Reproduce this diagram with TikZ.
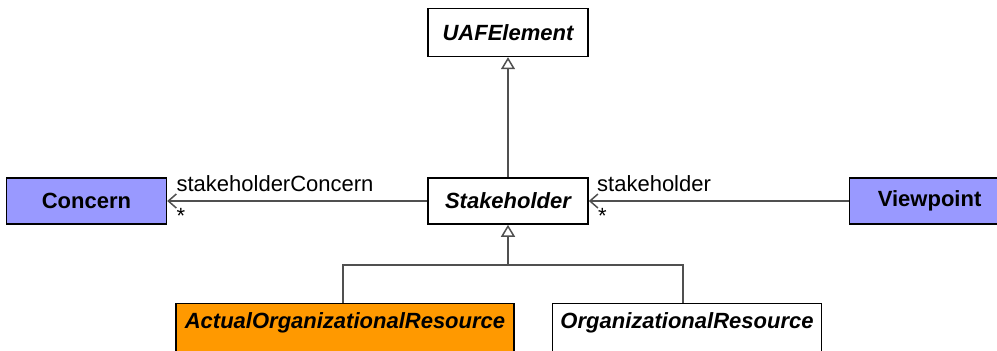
\documentclass[tikz,border=0pt]{standalone}
\usepackage{fontspec}
\setmainfont{Liberation Sans}
\usepackage{tikz}
\usetikzlibrary{arrows.meta,positioning}
\definecolor{lavender}{HTML}{9999FF}
\definecolor{amber}{HTML}{FF9900}
\definecolor{lgray}{HTML}{505050}
\tikzset{
  classbox/.style={
    rectangle, draw=black, fill=#1, line width=0.8pt,
    minimum width=80pt, minimum height=23pt,
    font=\fontsize{11}{13}\selectfont\bfseries, align=center,
    inner sep=3pt
  },
  classbox/.default=white,
  assocarrow/.style={
    -{Straight Barb[length=4pt, width=7pt]}, line width=0.75pt, color=lgray
  },
  genarrow/.style={
    -{Triangle[open, length=6pt, width=7pt, fill=white]}, line width=0.75pt, color=lgray
  },
  genline/.style={
    line width=0.75pt, color=lgray
  },
  labelnode/.style={
    font=\fontsize{11}{13}\selectfont, inner sep=0pt
  },
}
\begin{document}
\begin{tikzpicture}[node distance=60pt and 130pt]
  \useasboundingbox (-254pt,-74.5pt) rectangle (244.5pt,100.5pt);

  \node[classbox] (stake) {\itshape Stakeholder};
  \node[classbox, above=60pt of stake, minimum height=24pt] (uaf)
    {\itshape UAFElement};
  \node[classbox=lavender, left=130pt of stake] (concern) {Concern};
  \node[classbox=lavender, right=130pt of stake] (view) {Viewpoint};

  \draw[genarrow] (stake) -- (uaf);
  \draw[assocarrow] (stake) -- (concern);
  \draw[assocarrow] (view) -- (stake);

  \node[labelnode, anchor=south west] (conclbl)
    at ([xshift=4.5pt, yshift=4.5pt]concern.east) {stakeholderConcern};
  \node[labelnode, anchor=north west] (concmul)
    at ([xshift=4.5pt, yshift=-3.5pt]concern.east) {*};
  \node[labelnode, anchor=south west] (viewlbl)
    at ([xshift=4pt, yshift=4.5pt]stake.east) {stakeholder};
  \node[labelnode, anchor=north west] (viewmul)
    at ([xshift=4.5pt, yshift=-3.5pt]stake.east) {*};

  % specialisations
  \node[classbox=amber, minimum width=169pt, minimum height=40pt,
    anchor=north] (aor) at ([xshift=-81.5pt, yshift=-39pt]stake.south)
    {\itshape ActualOrganizationalResource\\[10pt]};
  \node[classbox, minimum width=134.5pt, minimum height=40pt,
    anchor=north] (orgres) at ([xshift=89.5pt, yshift=-39pt]stake.south)
    {\itshape OrganizationalResource\\[10pt]};
  \coordinate[below=20pt of stake.south] (fork);

  \draw[genline] ([xshift=-1pt]aor.north) |- (fork) -| ([xshift=-2pt]orgres.north);
  \draw[genarrow] (fork) -- (stake.south);
\end{tikzpicture}
\end{document}
